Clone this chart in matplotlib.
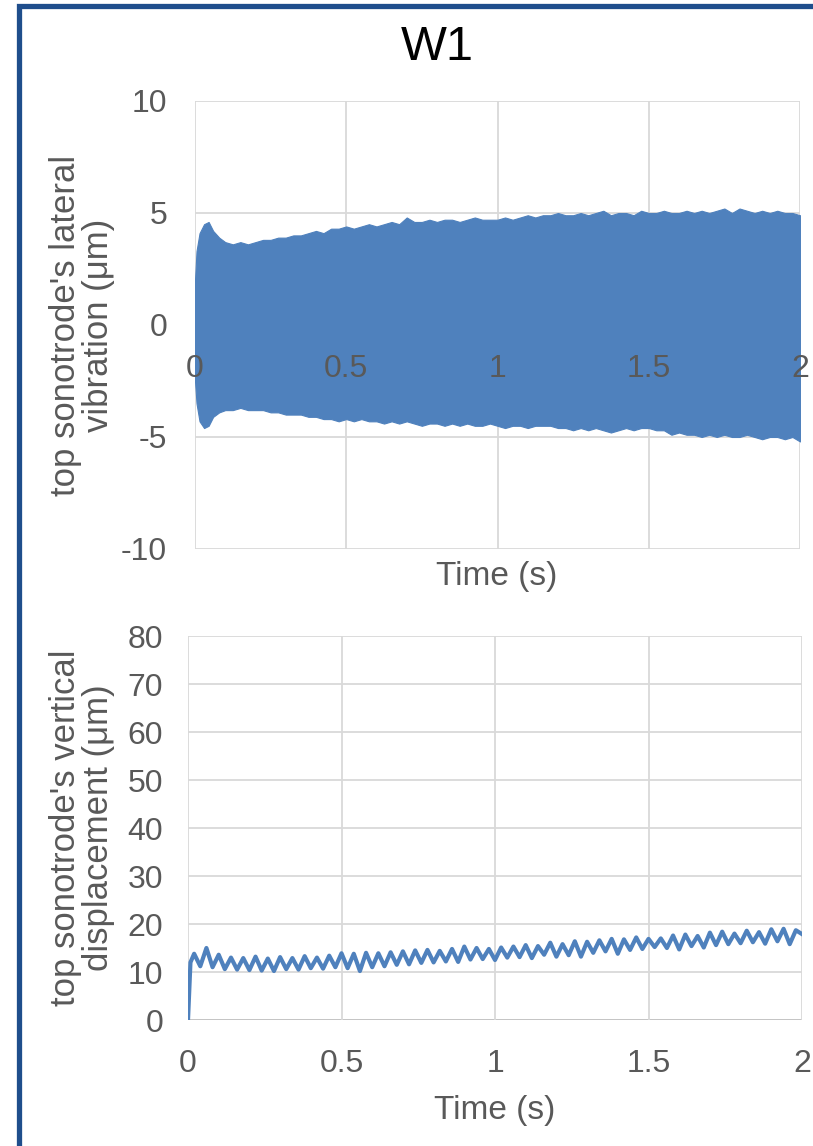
import matplotlib
matplotlib.use("Agg")
import matplotlib.pyplot as plt
import numpy as np
from matplotlib.lines import Line2D

plt.rcParams['font.family'] = ['Liberation Sans', 'DejaVu Sans']
plt.rcParams['axes.unicode_minus'] = False

# ---- lateral vibration envelope (um) ----
env_t = [0.0, 0.005, 0.015, 0.03, 0.045, 0.06, 0.08,
         0.100, 0.125, 0.150, 0.175, 0.200, 0.225, 0.250, 0.275, 0.300, 0.325,
         0.350, 0.375, 0.400, 0.425, 0.450, 0.475, 0.500, 0.525, 0.550, 0.575,
         0.600, 0.625, 0.650, 0.675, 0.700, 0.725, 0.750, 0.775, 0.800, 0.825,
         0.850, 0.875, 0.900, 0.925, 0.950, 0.975, 1.000, 1.025, 1.050, 1.075,
         1.100, 1.125, 1.150, 1.175, 1.200, 1.225, 1.250, 1.275, 1.300, 1.325,
         1.350, 1.375, 1.400, 1.425, 1.450, 1.475, 1.500, 1.525, 1.550, 1.575,
         1.600, 1.625, 1.650, 1.675, 1.700, 1.725, 1.750, 1.775, 1.800, 1.825,
         1.850, 1.875, 1.900, 1.925, 1.950, 1.975, 2.000]
env_upper = [2.0, 3.3, 4.1, 4.5, 4.6, 4.2, 3.9,
             3.7, 3.6, 3.7, 3.6, 3.7, 3.8, 3.8, 3.9, 3.9, 4.0,
             4.0, 4.1, 4.2, 4.1, 4.3, 4.3, 4.4, 4.3, 4.4, 4.5,
             4.4, 4.5, 4.6, 4.5, 4.8, 4.6, 4.6, 4.7, 4.6, 4.7,
             4.7, 4.6, 4.7, 4.8, 4.7, 4.7, 4.7, 4.8, 4.7, 4.8,
             4.9, 4.8, 4.9, 4.9, 5.0, 4.9, 4.9, 5.0, 4.9, 5.0,
             5.1, 4.9, 5.0, 5.0, 4.9, 5.1, 5.0, 5.0, 5.1, 5.0,
             5.0, 5.1, 5.0, 5.1, 5.0, 5.1, 5.2, 5.0, 5.2, 5.1,
             5.0, 5.1, 5.0, 5.1, 5.0, 5.0, 4.9]
env_lower = [-2.5, -3.5, -4.3, -4.6, -4.5, -4.1, -3.9,
             -3.8, -3.8, -3.7, -3.8, -3.8, -3.8, -3.9, -3.9, -4.0, -4.0,
             -4.0, -4.1, -4.1, -4.2, -4.2, -4.3, -4.2, -4.3, -4.2, -4.3,
             -4.3, -4.4, -4.3, -4.4, -4.3, -4.4, -4.5, -4.4, -4.4, -4.5,
             -4.4, -4.5, -4.4, -4.5, -4.5, -4.4, -4.5, -4.6, -4.5, -4.5,
             -4.6, -4.5, -4.5, -4.5, -4.6, -4.6, -4.7, -4.6, -4.7, -4.6,
             -4.7, -4.8, -4.7, -4.6, -4.7, -4.6, -4.6, -4.7, -4.7, -4.9,
             -4.8, -4.9, -4.9, -5.0, -4.9, -5.0, -4.9, -5.0, -5.0, -4.9,
             -5.0, -5.1, -5.0, -5.0, -5.1, -5.0, -5.2]

# ---- vertical displacement (um) ----
disp_t = [0.0, 0.008] + [round(0.02 * i, 2) for i in range(1, 101)]
disp_vals = [0.0, 12.0,
             13.8, 11.2, 15.0, 11.0, 13.6, 10.6, 13.0, 10.5, 12.9, 10.4,
             13.2, 10.3, 12.8, 10.2, 13.1, 10.6, 12.9, 10.5, 13.3, 10.8,
             13.0, 10.7, 13.4, 11.0, 13.9, 10.8, 13.8, 10.2, 14.0, 11.0,
             13.9, 11.2, 14.1, 11.5, 14.3, 11.6, 14.5, 11.9, 14.6, 12.0,
             14.4, 12.2, 14.8, 12.1, 15.3, 12.6, 15.0, 12.7, 14.8, 12.5,
             15.1, 13.0, 15.3, 13.1, 15.6, 12.9, 15.4, 13.6, 16.1, 13.2,
             15.8, 13.5, 16.4, 13.2, 16.3, 14.0, 16.6, 14.3, 16.9, 13.8,
             16.8, 14.6, 17.2, 14.8, 16.9, 15.2, 17.0, 15.0, 17.6, 14.7,
             17.8, 15.4, 17.5, 15.1, 18.2, 15.6, 18.4, 15.8, 18.0, 16.0,
             18.6, 16.2, 18.3, 15.9, 18.9, 16.4, 19.0, 15.8, 18.7, 17.9]

x_ticks = [0, 0.5, 1, 1.5, 2]
x_labels = ['0', '0.5', '1', '1.5', '2']
lat_ticks = [-10, -5, 0, 5, 10]
disp_ticks = [0, 10, 20, 30, 40, 50, 60, 70, 80]

blue = '#4F81BD'
grey_txt = '#595959'
grid_c = '#D9D9D9'

W, H = 813, 1146
fig = plt.figure(figsize=(W / 100, H / 100), dpi=100)


def fx(px):
    return px / W


def fy(py):
    return 1 - py / H


def style(ax, yticks, xpad, ypad):
    for s in ax.spines.values():
        s.set_visible(False)
    ax.set_xlim(0, 2)
    ax.set_ylim(yticks[0], yticks[-1])
    ax.set_xticks(x_ticks)
    ax.set_xticklabels(x_labels)
    ax.set_yticks(yticks)
    ax.tick_params(length=0, labelsize=23, labelcolor=grey_txt)
    ax.tick_params(axis='x', pad=xpad)
    ax.tick_params(axis='y', pad=ypad)
    for v in yticks:
        ax.axhline(v, color='#BFBFBF' if v == 0 else grid_c, lw=1.3, zorder=0.5)
    for v in x_ticks:
        ax.axvline(v, color=grid_c, lw=1.3, zorder=0.5)
    ax.xaxis.set_zorder(3)


# top: lateral vibration
ax1 = fig.add_axes([fx(195), fy(549), fx(605), 448 / H])
ax1.fill_between(env_t, env_lower, env_upper, color=blue, lw=0.8,
                 edgecolor=blue, zorder=2)
style(ax1, lat_ticks, 21, 20)
ax1.spines['bottom'].set_position(('data', 0))

# bottom: vertical displacement
ax2 = fig.add_axes([fx(188), fy(1020), fx(614), 384 / H])
ax2.plot(disp_t, disp_vals, color=blue, lw=3.0, zorder=2)
style(ax2, disp_ticks, 21, 18)

fig.text(fx(437), fy(48), 'W1', fontsize=35, ha='center', va='center')
fig.text(fx(497), fy(577), 'Time (s)', fontsize=24, color=grey_txt,
         ha='center', va='center')
fig.text(fx(495), fy(1111), 'Time (s)', fontsize=24, color=grey_txt,
         ha='center', va='center')
fig.text(fx(82), fy(325), "top sonotrode's lateral\nvibration (\u03bcm)",
         fontsize=25, color=grey_txt, rotation=90, ha='center', va='center',
         linespacing=1.0, multialignment='center')
fig.text(fx(82), fy(828), "top sonotrode's vertical\ndisplacement (\u03bcm)",
         fontsize=25, color=grey_txt, rotation=90, ha='center', va='center',
         linespacing=1.0, multialignment='center')

# blue frame on left and top
frame_c = '#1F4E8C'
fig.add_artist(Line2D([fx(18.5), fx(18.5), 1.0], [0.0, fy(5.5), fy(5.5)],
                      color=frame_c, lw=3.8, solid_joinstyle='miter'))

fig.savefig('out.png', dpi=100)
